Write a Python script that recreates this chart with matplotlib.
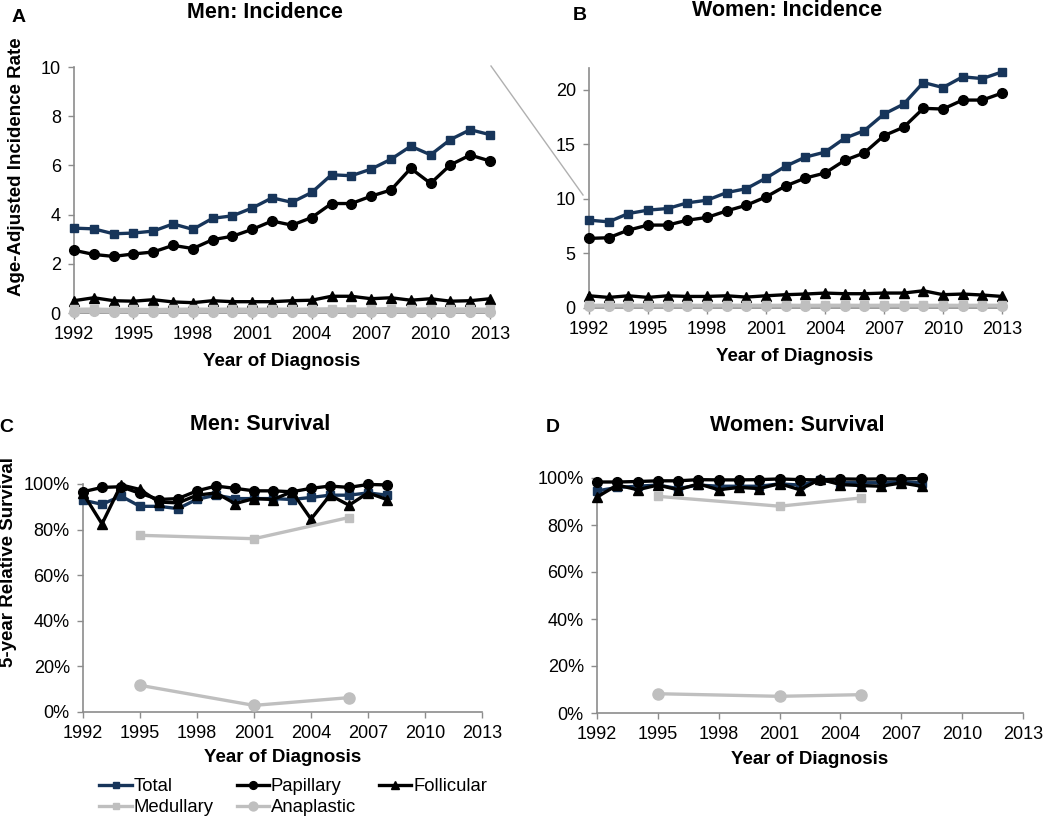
import matplotlib
matplotlib.use("Agg")
import matplotlib.pyplot as plt
from matplotlib.lines import Line2D
from matplotlib.ticker import FuncFormatter

plt.rcParams['font.family'] = ['Liberation Sans', 'DejaVu Sans']

W, H = 1050, 817

# ---- data ----
years = list(range(1992, 2014))
surv_years = list(range(1992, 2009))

men_total = [3.45, 3.42, 3.22, 3.25, 3.33, 3.62, 3.40, 3.85, 3.95, 4.27, 4.68, 4.50, 4.90, 5.62, 5.58, 5.85, 6.25, 6.78, 6.43, 7.05, 7.45, 7.25]
men_pap = [2.55, 2.38, 2.30, 2.40, 2.48, 2.75, 2.62, 2.98, 3.12, 3.40, 3.74, 3.57, 3.88, 4.45, 4.45, 4.75, 5.00, 5.88, 5.27, 6.02, 6.42, 6.18]
men_fol = [0.50, 0.62, 0.50, 0.48, 0.54, 0.45, 0.42, 0.50, 0.46, 0.46, 0.46, 0.50, 0.52, 0.68, 0.68, 0.58, 0.62, 0.52, 0.58, 0.48, 0.50, 0.58]
men_med = [0.15, 0.16, 0.14, 0.15, 0.14, 0.15, 0.16, 0.15, 0.16, 0.15, 0.16, 0.15, 0.16, 0.17, 0.16, 0.16, 0.18, 0.15, 0.17, 0.16, 0.16, 0.15]
men_ana = [0.06, 0.07, 0.05, 0.06, 0.05, 0.06, 0.05, 0.06, 0.06, 0.05, 0.06, 0.05, 0.06, 0.06, 0.06, 0.05, 0.06, 0.05, 0.06, 0.05, 0.06, 0.06]

women_total = [8.05, 7.90, 8.66, 8.97, 9.12, 9.64, 9.88, 10.58, 10.94, 11.91, 13.00, 13.83, 14.29, 15.56, 16.26, 17.78, 18.69, 20.67, 20.21, 21.19, 21.03, 21.64]
women_pap = [6.38, 6.44, 7.14, 7.60, 7.60, 8.05, 8.30, 8.90, 9.42, 10.18, 11.19, 11.91, 12.37, 13.53, 14.22, 15.80, 16.57, 18.30, 18.24, 19.06, 19.06, 19.70]
women_fol = [1.12, 0.97, 1.12, 0.97, 1.12, 1.06, 1.06, 1.12, 1.00, 1.12, 1.22, 1.28, 1.37, 1.31, 1.31, 1.37, 1.37, 1.58, 1.22, 1.28, 1.19, 1.06]
women_med = [0.24, 0.25, 0.24, 0.25, 0.24, 0.25, 0.24, 0.25, 0.25, 0.24, 0.25, 0.24, 0.25, 0.25, 0.24, 0.25, 0.25, 0.24, 0.25, 0.24, 0.25, 0.25]
women_ana = [0.20, 0.21, 0.20, 0.20, 0.21, 0.20, 0.20, 0.21, 0.20, 0.20, 0.21, 0.20, 0.20, 0.21, 0.20, 0.20, 0.21, 0.20, 0.20, 0.21, 0.20, 0.20]

# 5-year relative survival (%)
men_s_total = [92.9, 91.1, 94.7, 90.2, 90.2, 89.2, 93.3, 95.1, 93.6, 93.6, 93.6, 93.2, 94.1, 95.1, 95.1, 96.1, 95.1]
men_s_pap = [96.6, 98.5, 98.8, 95.9, 93.2, 93.6, 97.0, 99.1, 98.1, 97.0, 97.0, 96.6, 98.1, 99.1, 98.5, 99.8, 99.6]
men_s_fol = [95.9, 82.5, 99.6, 97.6, 92.1, 91.7, 95.1, 96.1, 91.4, 93.6, 93.2, 96.6, 84.6, 95.1, 90.7, 96.1, 93.2]
men_s_rare_years = [1995, 2001, 2006]
men_s_med = [77.5, 76.0, 85.3]
men_s_ana = [11.7, 2.9, 6.3]

women_s_total = [94.5, 96.0, 96.5, 97.0, 95.5, 97.0, 96.5, 96.5, 96.5, 97.5, 97.0, 99.0, 98.0, 98.0, 98.0, 98.5, 98.0]
women_s_pap = [98.3, 98.3, 98.5, 98.8, 98.8, 99.3, 99.2, 99.2, 99.3, 99.6, 99.3, 99.2, 99.6, 99.5, 99.6, 99.6, 99.8]
women_s_fol = [91.9, 97.0, 95.0, 97.0, 95.0, 97.5, 95.0, 96.0, 95.5, 97.6, 95.0, 99.5, 97.2, 96.8, 96.5, 97.9, 96.5]
women_s_rare_years = [1995, 2001, 2005]
women_s_med = [92.2, 88.0, 91.5]
women_s_ana = [8.2, 7.1, 7.8]

xticks = list(range(1992, 2014, 3))

NAVY = '#17355a'
BLACK = '#000000'
GRAY = '#bfbfbf'
AXC = '#8c8c8c'


def px(x, y):
    return x / W, 1 - y / H


def make_ax(left, top, right, bottom):
    l, t = px(left, top)
    r, b = px(right, bottom)
    ax = fig.add_axes([l, b, r - l, t - b])
    for s in ['top', 'right']:
        ax.spines[s].set_visible(False)
    for s in ['left', 'bottom']:
        ax.spines[s].set_color(AXC)
        ax.spines[s].set_linewidth(1.2)
    ax.tick_params(axis='both', colors=AXC, labelcolor='black', labelsize=13,
                   length=4.5, width=1.0, direction='out')
    ax.tick_params(axis='x', pad=5)
    ax.tick_params(axis='y', pad=5)
    ax.set_xlim(1992, 2013)
    ax.set_xticks(xticks)
    return ax


def draw(ax, xs, tot, pap, fol, rx, med, ana, big=False):
    lw = 2.4
    ax.plot(xs, tot, color=NAVY, lw=lw, marker='s', ms=5.5, clip_on=False, label='Total', zorder=3)
    ax.plot(xs, pap, color=BLACK, lw=lw, marker='o', ms=7, clip_on=False, label='Papillary', zorder=4)
    ax.plot(xs, fol, color=BLACK, lw=lw, marker='^', ms=6.5, clip_on=False, label='Follicular', zorder=5)
    ax.plot(rx, med, color=GRAY, lw=lw, marker='s', ms=6, clip_on=False, label='Medullary', zorder=6)
    ax.plot(rx, ana, color=GRAY, lw=lw, marker='o', ms=8 if big else 7, clip_on=False, label='Anaplastic', zorder=7)


fig = plt.figure(figsize=(10.5, 8.17), dpi=100)

# A: men incidence
axA = make_ax(74, 67, 490, 313)
draw(axA, years, men_total, men_pap, men_fol, years, men_med, men_ana)
axA.set_ylim(0, 10)
axA.set_yticks([0, 2, 4, 6, 8, 10])

# B: women incidence
axB = make_ax(589, 68, 1002, 308)
draw(axB, years, women_total, women_pap, women_fol, years, women_med, women_ana)
axB.set_ylim(0, 22)
axB.set_yticks([0, 5, 10, 15, 20])

pct = FuncFormatter(lambda v, p: '%d%%' % v)

# C: men survival
axC = make_ax(83, 484, 482, 712)
draw(axC, surv_years, men_s_total, men_s_pap, men_s_fol, men_s_rare_years, men_s_med, men_s_ana, big=True)
axC.set_ylim(0, 100)
axC.set_yticks([0, 20, 40, 60, 80, 100])
axC.yaxis.set_major_formatter(pct)

# D: women survival
axD = make_ax(597, 478, 1023, 713)
draw(axD, surv_years, women_s_total, women_s_pap, women_s_fol, women_s_rare_years, women_s_med, women_s_ana, big=True)
axD.set_ylim(0, 100)
axD.set_yticks([0, 20, 40, 60, 80, 100])
axD.yaxis.set_major_formatter(pct)

# titles, panel letters, axis labels
bold = dict(fontweight='bold', ha='center', va='center')
for letter, (x, y) in zip('ABCD', [(19, 17), (580, 15), (6, 427), (553, 427)]):
    fig.text(*px(x, y), letter, fontsize=14, **bold)
for title, (x, y) in zip(['Men: Incidence', 'Women: Incidence', 'Men: Survival', 'Women: Survival'],
                         [(265, 13), (787, 10), (260, 424), (797, 426)]):
    fig.text(*px(x, y), title, fontsize=15.5, **bold)
for (x, y) in [(282, 362), (795, 356), (283, 758), (810, 760)]:
    fig.text(*px(x, y), 'Year of Diagnosis', fontsize=13.5, **bold)
fig.text(*px(17, 167), 'Age-Adjusted Incidence Rate', fontsize=13.5, rotation=90, **bold)
fig.text(*px(9, 562), '5-year Relative Survival', fontsize=13.5, rotation=90, **bold)

# grey connector line between A and B
x0, y0 = px(491, 66)
x1, y1 = px(583, 195)
fig.add_artist(Line2D([x0, x1], [y0, y1], color='#b0b0b0', lw=1.0))

# legend under panel C (row order Total, Papillary, Follicular / Medullary, Anaplastic)
h, l = axC.get_legend_handles_labels()
order = [0, 3, 1, 4, 2]
fig.legend([h[i] for i in order], [l[i] for i in order], ncol=3, frameon=False,
           loc='upper left', bbox_to_anchor=px(92, 771), borderaxespad=0,
           fontsize=13.3, handlelength=1.75, handletextpad=0.1, columnspacing=1.25,
           labelspacing=0.2, numpoints=1, markerscale=0.8)

fig.savefig('out.png', dpi=100)
